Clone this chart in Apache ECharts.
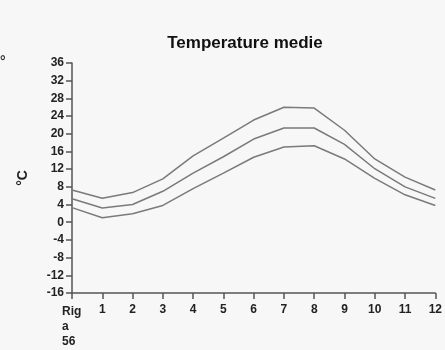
<!DOCTYPE html>
<html>
<head>
<meta charset="utf-8">
<script src="https://cdn.jsdelivr.net/npm/echarts@6/dist/echarts.min.js"></script>
<style>
  html, body { margin: 0; padding: 0; background: #f7f7f7; }
  #chart { width: 445px; height: 350px; }
</style>
</head>
<body>
<div id="chart"></div>
<script>
// months, first slot is the station label
var months = ['Riga56', '1', '2', '3', '4', '5', '6', '7', '8', '9', '10', '11', '12'];
var tempMax = [7.3, 5.4, 6.7, 9.8, 15.0, 19.0, 23.1, 26.0, 25.8, 20.8, 14.3, 10.2, 7.3];
var tempMed = [5.3, 3.2, 4.0, 7.0, 11.1, 14.8, 18.8, 21.3, 21.3, 17.6, 12.1, 8.0, 5.4];
var tempMin = [3.3, 1.0, 1.9, 3.8, 7.6, 11.1, 14.7, 17.0, 17.3, 14.3, 9.9, 6.2, 3.8];

var chart = echarts.init(document.getElementById('chart'));
var font = 'Liberation Sans, Arial, sans-serif';
var lineStyle = { color: '#7a7a7a', width: 1.5 };

function mkLine(name, data) {
  return {
    name: name,
    type: 'line',
    data: data,
    symbol: 'none',
    smooth: false,
    lineStyle: lineStyle
  };
}

var option = {
  backgroundColor: '#f7f7f7',
  animation: false,
  title: {
    text: 'Temperature medie',
    left: 240,
    textAlign: 'center',
    top: 30,
    textStyle: { fontFamily: font, fontSize: 17, fontWeight: 'bold', color: '#111' }
  },
  graphic: [{
    type: 'text',
    left: 0,
    top: 55,
    style: { text: '°', font: 'bold 14px ' + font, fill: '#333' }
  }],
  grid: { left: 72, right: 5, top: 63, bottom: 57 },
  xAxis: {
    type: 'category',
    data: months,
    boundaryGap: false,
    axisLine: { onZero: false, lineStyle: { color: '#555', width: 1.5 } },
    axisTick: { alignWithLabel: true, length: 6, lineStyle: { color: '#555', width: 1.5 } },
    axisLabel: {
      interval: 0,
      margin: 11,
      color: '#222',
      fontFamily: font,
      fontSize: 12,
      fontWeight: 'bold',
      formatter: function (v, i) {
        if (i === 0) return '{l|Rig}\n{l|a}\n{l|56}';
        return v;
      },
      rich: {
        l: { width: 20, align: 'left', fontFamily: font, fontSize: 12, fontWeight: 'bold', color: '#222', lineHeight: 15 }
      }
    }
  },
  yAxis: {
    type: 'value',
    min: -16,
    max: 36,
    interval: 4,
    name: '°C',
    nameLocation: 'middle',
    nameGap: 42,
    nameTextStyle: { fontFamily: font, fontSize: 14, fontWeight: 'bold', color: '#222' },
    splitLine: { show: false },
    axisLine: { show: true, lineStyle: { color: '#555', width: 1.5 } },
    axisTick: { show: true, length: 6, lineStyle: { color: '#555', width: 1.5 } },
    axisLabel: { color: '#222', fontFamily: font, fontSize: 12, fontWeight: 'bold', margin: 8 }
  },
  series: [
    mkLine('max', tempMax),
    mkLine('medie', tempMed),
    mkLine('min', tempMin)
  ]
};

chart.setOption(option);
</script>
</body>
</html>
